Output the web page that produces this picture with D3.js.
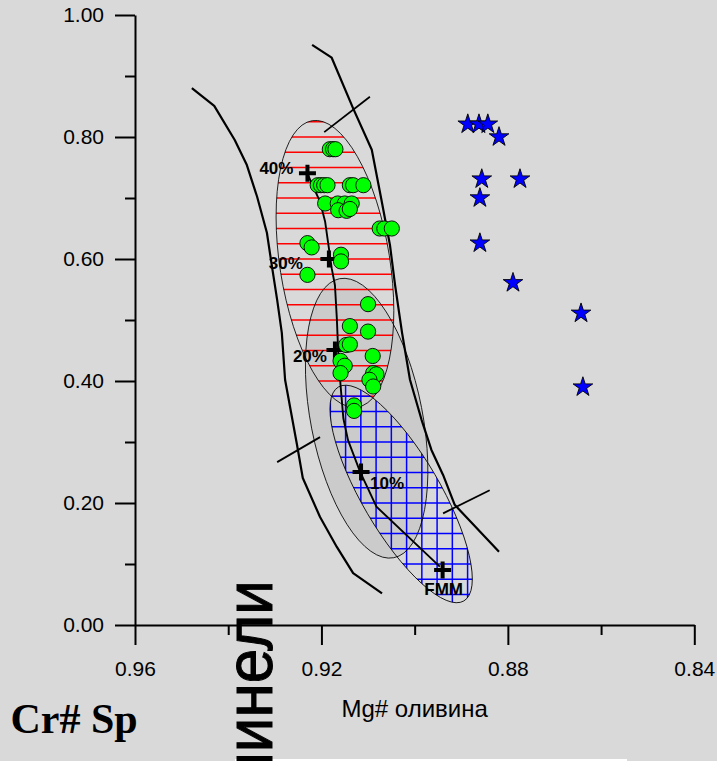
<!DOCTYPE html>
<html>
<head>
<meta charset="utf-8">
<script src="https://cdn.jsdelivr.net/npm/d3@7"></script>
<style>
  body { margin: 0; background: #d9d9d9; }
  svg { display: block; }
</style>
</head>
<body>
<div id="chart"></div>
<script>

// Green circles: Mg# olivine / Cr# spinel
const circleMg = [0.9182, 0.9175, 0.9170, 0.9208, 0.9201, 0.9194, 0.9187, 0.9139, 0.9132, 0.9110,
  0.9192, 0.9165, 0.9150, 0.9135, 0.9164, 0.9146, 0.9139, 0.9075, 0.9065, 0.9049,
  0.9230, 0.9221, 0.9158, 0.9158, 0.9230, 0.9100, 0.9139, 0.9100, 0.9147, 0.9139,
  0.9090, 0.9159, 0.9150, 0.9159, 0.9089, 0.9082, 0.9097, 0.9089, 0.9130, 0.9130];
const circleCr = [0.780, 0.780, 0.780, 0.721, 0.721, 0.721, 0.721, 0.721, 0.721, 0.721,
  0.691, 0.691, 0.691, 0.691, 0.680, 0.679, 0.682, 0.650, 0.650, 0.650,
  0.626, 0.619, 0.607, 0.596, 0.574, 0.526, 0.490, 0.481, 0.459, 0.460,
  0.441, 0.433, 0.425, 0.413, 0.413, 0.411, 0.402, 0.391, 0.360, 0.351];

// Blue stars
const starMg = [0.8886, 0.8862, 0.8843, 0.8819, 0.8856, 0.8774, 0.8860, 0.8860, 0.8789, 0.8643, 0.8639];
const starCr = [0.821, 0.821, 0.821, 0.800, 0.731, 0.731, 0.700, 0.626, 0.561, 0.511, 0.390];

// OSMA boundaries
const leftMg = [0.9478, 0.9430, 0.9386, 0.9360, 0.9338, 0.9317, 0.9306, 0.9295, 0.9285, 0.9278,
  0.9253, 0.9240, 0.9203, 0.9167, 0.9132, 0.9070];
const leftCr = [0.880, 0.851, 0.795, 0.754, 0.702, 0.643, 0.587, 0.533, 0.479, 0.402,
  0.298, 0.241, 0.177, 0.128, 0.085, 0.052];
const rightMg = [0.9220, 0.9178, 0.9132, 0.9092, 0.9072, 0.9053, 0.9042, 0.9027, 0.9010,
  0.8985, 0.8964, 0.8939, 0.8914, 0.8819];
const rightCr = [0.951, 0.930, 0.847, 0.779, 0.700, 0.623, 0.557, 0.479, 0.402,
  0.336, 0.287, 0.246, 0.197, 0.120];

// FMM melting trend
const meltMg = [0.9230, 0.9221, 0.9203, 0.9192, 0.9185, 0.9178, 0.9171, 0.9167, 0.9164,
  0.9159, 0.9153, 0.9143, 0.9117, 0.9082, 0.8946];
const meltCr = [0.7405, 0.724, 0.694, 0.661, 0.623, 0.585, 0.557, 0.503, 0.448,
  0.393, 0.339, 0.303, 0.251, 0.194, 0.0956];
const stepLabels = ["40%", "30%", "20%", "10%", "FMM"];
const stepMg = [0.9230, 0.9184, 0.9171, 0.9115, 0.8940];
const stepCr = [0.7405, 0.600, 0.451, 0.251, 0.090];

// short cross lines: [mg1, cr1, mg2, cr2]
const barMg1 = [0.9194, 0.9295, 0.8939];
const barCr1 = [0.808, 0.267, 0.183];
const barMg2 = [0.9096, 0.9203, 0.8839];
const barCr2 = [0.866, 0.308, 0.221];

// fields: grey, red hatched, blue grid
const fieldNames = ["grey", "red", "blue"];
const fieldMg = [0.9103, 0.9171, 0.9029];
const fieldCr = [0.339, 0.592, 0.2148];
const fieldHalfCr = [0.233, 0.2377, 0.2033];
const fieldHalfMg = [0.0120, 0.0118, 0.00836];
const fieldTilt = [-11, -9, -30.4];

const xTicks = [0.96, 0.92, 0.88, 0.84];
const xMinor = [0.94, 0.90, 0.86];
const yTicks = [0, 0.2, 0.4, 0.6, 0.8, 1.0];
const yMinor = [0.1, 0.3, 0.5, 0.7, 0.9];

const width = 717;
const height = 761;
const font = "'Liberation Sans', Arial, sans-serif";

const x = d3.scaleLinear().domain([0.96, 0.84]).range([135, 694.3]);
const y = d3.scaleLinear().domain([0, 1]).range([625, 15]);

const svg = d3.select("#chart")
  .append("svg")
    .attr("width", width)
    .attr("height", height)
    .attr("viewBox", `0 0 ${width} ${height}`);

svg.append("rect")
  .attr("width", width)
  .attr("height", height)
  .attr("fill", "#d9d9d9");

const fields = fieldNames.map((name, i) => ({
  name,
  cx: x(fieldMg[i]),
  cy: y(fieldCr[i]),
  rx: Math.abs(x(fieldMg[i] + fieldHalfMg[i]) - x(fieldMg[i])),
  ry: y(0) - y(fieldHalfCr[i]),
  tilt: fieldTilt[i]
}));
const field = name => fields.find(f => f.name === name);

const drawEllipse = (sel, f) => sel
  .attr("cx", f.cx)
  .attr("cy", f.cy)
  .attr("rx", f.rx)
  .attr("ry", f.ry)
  .attr("transform", `rotate(${f.tilt}, ${f.cx}, ${f.cy})`);

const defs = svg.append("defs");
["red", "blue"].forEach(name => {
  defs.append("clipPath")
    .attr("id", `clip-${name}`)
    .append("ellipse")
      .call(drawEllipse, field(name));
});

// grey field
svg.append("ellipse")
  .call(drawEllipse, field("grey"))
  .attr("fill", "#cbcbcb")
  .attr("stroke", "none");

// hatch lines
const step = 0.025;
const hLevels = d3.range(0, 41).map(k => k * step);
const pxStep = y(0) - y(step);
const vLines = d3.range(-12, 13).map(k => x(0.905) + k * pxStep);

svg.append("g")
  .attr("clip-path", "url(#clip-red)")
  .selectAll("line")
  .data(hLevels)
  .join("line")
    .attr("x1", 135)
    .attr("x2", 694)
    .attr("y1", d => y(d))
    .attr("y2", d => y(d))
    .attr("stroke", "#ff0000")
    .attr("stroke-width", 1.4);

const grid = svg.append("g")
  .attr("clip-path", "url(#clip-blue)")
  .attr("stroke", "#0000ff")
  .attr("stroke-width", 1.5);
grid.selectAll(".h")
  .data(hLevels)
  .join("line")
    .attr("class", "h")
    .attr("x1", 135)
    .attr("x2", 694)
    .attr("y1", d => y(d))
    .attr("y2", d => y(d));
grid.selectAll(".v")
  .data(vLines)
  .join("line")
    .attr("class", "v")
    .attr("x1", d => d)
    .attr("x2", d => d)
    .attr("y1", 15)
    .attr("y2", 625);

// outlines
svg.selectAll(".outline")
  .data(fields)
  .join("ellipse")
    .attr("class", "outline")
    .each(function(f) { d3.select(this).call(drawEllipse, f); })
    .attr("fill", "none")
    .attr("stroke", "#000")
    .attr("stroke-width", 0.8);

// curves
const line = d3.line().x(d => x(d[0])).y(d => y(d[1]));
const curves = [
  d3.zip(leftMg, leftCr),
  d3.zip(rightMg, rightCr),
  d3.zip(meltMg, meltCr)
];
svg.selectAll(".curve")
  .data(curves)
  .join("path")
    .attr("class", "curve")
    .attr("d", line)
    .attr("fill", "none")
    .attr("stroke", "#000")
    .attr("stroke-width", (d, i) => i === 2 ? 1.9 : 2.2)
    .attr("stroke-linejoin", "round");

svg.selectAll(".bar")
  .data(barMg1.map((m, i) => [m, barCr1[i], barMg2[i], barCr2[i]]))
  .join("line")
    .attr("class", "bar")
    .attr("x1", d => x(d[0]))
    .attr("y1", d => y(d[1]))
    .attr("x2", d => x(d[2]))
    .attr("y2", d => y(d[3]))
    .attr("stroke", "#000")
    .attr("stroke-width", 1.8);

// melting steps
const labelOffset = [[-14, 1, "end"], [-26, 10, "end"], [-8, 12, "end"], [9, 17, "start"], [1, 25, "middle"]];
const steps = svg.selectAll(".step")
  .data(stepLabels.map((t, i) => ({ t, mg: stepMg[i], cr: stepCr[i], off: labelOffset[i] })))
  .join("g")
    .attr("class", "step")
    .attr("transform", d => `translate(${x(d.mg)}, ${y(d.cr)})`);
steps.append("path")
  .attr("d", "M-8.5,0H8.5M0,-8.5V8.5")
  .attr("stroke", "#000")
  .attr("stroke-width", 4);
steps.append("text")
  .attr("x", d => d.off[0])
  .attr("y", d => d.off[1])
  .attr("text-anchor", d => d.off[2])
  .style("font-family", font)
  .style("font-size", "17px")
  .style("font-weight", 700)
  .text(d => d.t);

// samples
svg.selectAll(".sample")
  .data(d3.zip(circleMg, circleCr))
  .join("circle")
    .attr("class", "sample")
    .attr("cx", d => x(d[0]))
    .attr("cy", d => y(d[1]))
    .attr("r", 7.6)
    .attr("fill", "#00ff00")
    .attr("stroke", "#000")
    .attr("stroke-width", 0.9);

svg.selectAll(".star")
  .data(d3.zip(starMg, starCr))
  .join("path")
    .attr("class", "star")
    .attr("transform", d => `translate(${x(d[0])}, ${y(d[1])})`)
    .attr("d", d3.symbol().type(d3.symbolStar).size(120))
    .attr("fill", "#0000ff")
    .attr("stroke", "#000")
    .attr("stroke-width", 0.9);

// axes
const styleAxis = g => {
  g.attr("font-family", font).attr("font-size", 21);
  g.selectAll("path, line").attr("stroke", "#000").attr("stroke-width", 2);
  g.selectAll("text").attr("fill", "#000");
};

svg.append("g")
  .attr("transform", "translate(135,0)")
  .call(d3.axisLeft(y).tickValues(yTicks).tickFormat(d3.format(".2f"))
    .tickSize(20).tickSizeOuter(0).tickPadding(11))
  .call(styleAxis);
svg.append("g")
  .attr("transform", "translate(135,0)")
  .call(d3.axisLeft(y).tickValues(yMinor).tickFormat("").tickSize(10).tickSizeOuter(0))
  .call(styleAxis)
  .call(g => g.select(".domain").remove());

svg.append("g")
  .attr("transform", "translate(0,625)")
  .call(d3.axisBottom(x).tickValues(xTicks).tickFormat(d3.format(".2f"))
    .tickSize(20).tickSizeOuter(0).tickPadding(16))
  .call(styleAxis);
svg.append("g")
  .attr("transform", "translate(0,625)")
  .call(d3.axisBottom(x).tickValues(xMinor).tickFormat("").tickSize(10).tickSizeOuter(0))
  .call(styleAxis)
  .call(g => g.select(".domain").remove());

svg.append("text")
  .attr("x", (x.range()[0] + x.range()[1]) / 2)
  .attr("y", 716.5)
  .attr("text-anchor", "middle")
  .style("font-family", font)
  .style("font-size", "24px")
  .text("Mg# оливина");

svg.append("rect")
  .attr("x", 235)
  .attr("y", 759)
  .attr("width", 392)
  .attr("height", 2)
  .attr("fill", "#fff");

// vertical title, runs off the bottom edge as in the original
svg.append("text")
  .attr("transform", "translate(272,580) rotate(-90) scale(0.94,1)")
  .attr("text-anchor", "end")
  .style("font-family", font)
  .style("font-size", "66px")
  .attr("stroke", "#000")
  .attr("stroke-width", 1)
  .text("Cr# шпинели");

svg.append("text")
  .attr("x", 10.5)
  .attr("y", 733)
  .style("font-family", "'Liberation Serif', 'Times New Roman', serif")
  .style("font-size", "42px")
  .style("font-weight", 700)
  .text("Cr# Sp");

</script>
</body>
</html>
